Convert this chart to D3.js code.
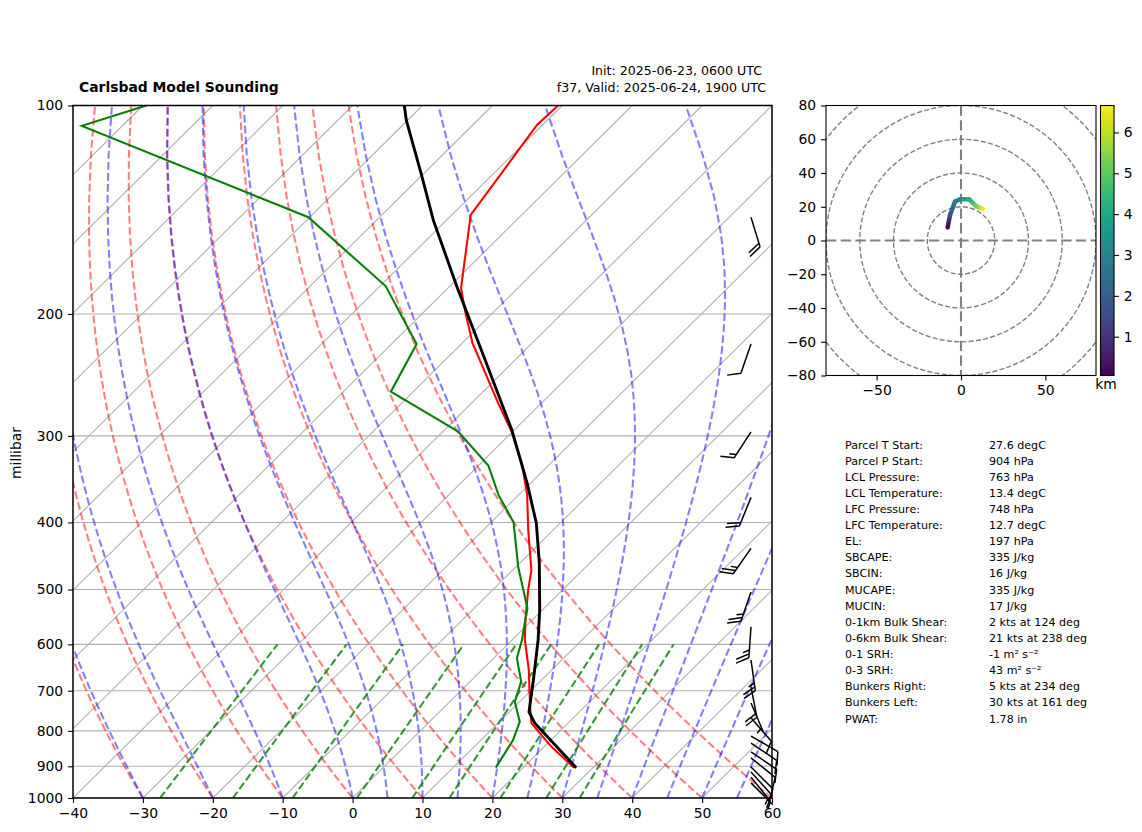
<!DOCTYPE html>
<html>
<head>
<meta charset="utf-8">
<script src="https://cdnjs.cloudflare.com/ajax/libs/d3/7.8.5/d3.min.js"></script>
<style>
    body { margin: 0; background: #fff; }
    text { font-family: "DejaVu Sans", sans-serif; fill: #000; }
    .tick text { font-size: 13.9px; }
    .tick line, .domain { stroke: #000; stroke-width: 1.1px; }
</style>
</head>
<body>
<script>
// sounding profile
const tempP = [904, 843, 780, 738, 653, 591, 553, 501, 469, 410, 365, 330, 297, 269, 225.5, 220.5, 197.4, 183.6, 143.9, 106.7, 100];
const tempC = [27.3, 21.0, 14.8, 12.2, 6.7, 1.8, -1.0, -4.9, -7.3, -13.6, -18.8, -23.9, -29.9, -36.2, -47.1, -48.5, -54.4, -58.1, -67.3, -70.8, -70.6];
const dewP = [904, 825, 776, 726, 679, 628, 591, 572, 532, 463.6, 399.7, 365, 331, 295.8, 284.5, 259, 221, 182.3, 145, 139.6, 107, 100];
const dewC = [16.1, 14.6, 12.9, 9.3, 7.3, 3.3, 1.4, 0.2, -2.4, -9.7, -16.8, -22.9, -28.6, -37.8, -42.3, -53.2, -56.4, -69.2, -90.2, -95.9, -135.8, -129.5];
const parcelP = [904, 779, 751, 675, 591, 535, 458, 401, 351, 294, 233, 182.7, 146.4, 126.7, 105, 100];
const parcelC = [27.6, 15.2, 12.8, 8.8, 3.7, -0.4, -7.2, -13.4, -20.5, -30.4, -44.3, -58.9, -71.9, -79.8, -90.2, -92.6];

// wind barbs
const windP = [145, 221, 296, 368, 436, 504, 566, 632, 691, 729, 766, 814, 833, 858, 875, 902, 917, 933, 951];
const windDir = [163, 199, 213, 202, 215, 199, 184, 172, 169, 157, 139, 120, 124, 124, 129, 135, 138, 141, 135];
const windKts = [20, 10, 15, 20, 25, 25, 25, 25, 20, 5, 10, 10, 10, 10, 10, 10, 10, 5, 5];

// hodograph
const hodoU = [-7.9, -6.5, -3.6, -0.6, 4.9, 8.9, 12.9];
const hodoV = [7.8, 15.1, 23, 24.4, 24.4, 20.4, 18.7];
const hodoKm = [0.05, 1.8, 2.7, 3.2, 4.2, 5.2, 6.6];

// background lines of the skew-T
const dryStart = [-30, -20, -10, 0, 10, 20, 30, 40, 50, 60];
const moistStart = [-30, -20, -10, 0, 5, 10, 15, 20, 25, 30, 35, 40, 45, 50, 55, 60];
const mixRatios = [0.0004, 0.001, 0.002, 0.004, 0.007, 0.01, 0.016, 0.024, 0.032];
const pressTicks = [100, 200, 300, 400, 500, 600, 700, 800, 900, 1000];
const tempTicks = [-40, -30, -20, -10, 0, 10, 20, 30, 40, 50, 60];

const statNames = ["Parcel T Start:", "Parcel P Start:", "LCL Pressure:", "LCL Temperature:", "LFC Pressure:", "LFC Temperature:", "EL:", "SBCAPE:", "SBCIN:", "MUCAPE:", "MUCIN:", "0-1km Bulk Shear:", "0-6km Bulk Shear:", "0-1 SRH:", "0-3 SRH:", "Bunkers Right:", "Bunkers Left:", "PWAT:"];
const statValues = ["27.6 degC", "904 hPa", "763 hPa", "13.4 degC", "748 hPa", "12.7 degC", "197 hPa", "335 J/kg", "16 J/kg", "335 J/kg", "17 J/kg", "2 kts at 124 deg", "21 kts at 238 deg", "-1 m\u00b2 s\u207b\u00b2", "43 m\u00b2 s\u207b\u00b2", "5 kts at 234 deg", "30 kts at 161 deg", "1.78 in"];

const width = 1142;
const height = 832;
const left = 73, right = 772, top_ = 105.5, bottom = 798;
const skew = 1.0094;

const x = d3.scaleLinear().domain([-40, 60]).range([left, right]);
const y = d3.scaleLog().domain([100, 1000]).range([top_, bottom]);
const skewX = (t, p) => x(t) + skew * (bottom - y(p));

const svg = d3.select(document.body).append("svg")
    .attr("width", width)
    .attr("height", height);

svg.append("clipPath").attr("id", "skewClip").append("rect")
    .attr("x", left).attr("y", top_).attr("width", right - left).attr("height", bottom - top_);

const plot = svg.append("g").attr("clip-path", "url(#skewClip)");
const line = d3.line().x(d => skewX(d[1], d[0])).y(d => y(d[0]));

// grid
plot.append("g").selectAll("line").data(d3.range(-130, 61, 10)).join("line")
    .attr("x1", t => skewX(t, 1000)).attr("y1", y(1000))
    .attr("x2", t => skewX(t, 100)).attr("y2", y(100))
    .attr("stroke", "#b0b0b0").attr("stroke-width", 1.1);
plot.append("g").selectAll("line").data(pressTicks).join("line")
    .attr("x1", left).attr("x2", right)
    .attr("y1", p => y(p)).attr("y2", p => y(p))
    .attr("stroke", "#b0b0b0").attr("stroke-width", 1.1);

// thermodynamic reference curves
const levels = d3.range(1000, 99, -18);
const dash = "7.7,3.3";

function dryAdiabat(t0) {
    return levels.map(p => [p, (t0 + 273.15) * Math.pow(p / 1000, 0.2857) - 273.15]);
}

function moistSlope(tK, p) {
    const es = 6.112 * Math.exp(17.67 * (tK - 273.15) / (tK - 29.65));
    const rs = 0.622 * es / (p - es);
    const Lv = 2.501e6, Rd = 287.05, Cp = 1005;
    return (Rd * tK + Lv * rs) / (Cp + Lv * Lv * rs * 0.622 / (Rd * tK * tK)) / p;
}

function moistAdiabat(t0) {
    let t = t0 + 273.15;
    const out = [[1000, t0]];
    for (let i = 1; i < levels.length; i++) {
        const p0 = levels[i - 1];
        const h = levels[i] - p0;
        const k1 = moistSlope(t, p0);
        const k2 = moistSlope(t + h * k1 / 2, p0 + h / 2);
        const k3 = moistSlope(t + h * k2 / 2, p0 + h / 2);
        const k4 = moistSlope(t + h * k3, p0 + h);
        t += h * (k1 + 2 * k2 + 2 * k3 + k4) / 6;
        out.push([levels[i], t - 273.15]);
    }
    return out;
}

function mixingLine(w) {
    return [1000, 950, 900, 850, 800, 750, 700, 650, 600].map(p => {
        const a = Math.log((p * w / (0.622 + w)) / 6.112);
        return [p, 243.5 * a / (17.67 - a)];
    });
}

plot.append("g").selectAll("path").data(dryStart.map(dryAdiabat)).join("path")
    .attr("d", line).attr("fill", "none")
    .attr("stroke", "#f00").attr("stroke-opacity", 0.5)
    .attr("stroke-width", 2.08).attr("stroke-dasharray", dash);
plot.append("g").selectAll("path").data(moistStart.map(moistAdiabat)).join("path")
    .attr("d", line).attr("fill", "none")
    .attr("stroke", "#00f").attr("stroke-opacity", 0.5)
    .attr("stroke-width", 2.08).attr("stroke-dasharray", dash);
plot.append("g").selectAll("path").data(mixRatios.map(mixingLine)).join("path")
    .attr("d", line).attr("fill", "none")
    .attr("stroke", "#008000").attr("stroke-opacity", 0.8)
    .attr("stroke-width", 2.08).attr("stroke-dasharray", dash);

// profiles
plot.append("path").datum(d3.zip(tempP, tempC)).attr("d", line)
    .attr("fill", "none").attr("stroke", "#f00").attr("stroke-width", 2.08);
plot.append("path").datum(d3.zip(dewP, dewC)).attr("d", line)
    .attr("fill", "none").attr("stroke", "#008000").attr("stroke-width", 2.08);
plot.append("path").datum(d3.zip(parcelP, parcelC)).attr("d", line)
    .attr("fill", "none").attr("stroke", "#000").attr("stroke-width", 2.9);

// barbs, not clipped: in the reference they stick out of the frame
const barbLen = 31;
function barbPath(kts) {
    const h = 0.4 * barbLen, gap = 0.125 * barbLen;
    let d = `M0,0L0,${barbLen}`;
    let full = Math.floor(kts / 10);
    const half = kts % 10 >= 5;
    let off = (full === 0 && half) ? gap : 0;
    for (let i = 0; i < full; i++) {
        d += `M0,${barbLen - off}L${-h},${barbLen - off + h / 2}`;
        off += gap;
    }
    if (half) d += `M0,${barbLen - off}L${-h / 2},${barbLen - off + h / 4}`;
    return d;
}

// frame first, the barbs lie over it
svg.append("rect").attr("x", left).attr("y", top_)
    .attr("width", right - left).attr("height", bottom - top_)
    .attr("fill", "none").attr("stroke", "#000").attr("stroke-width", 1.5);

svg.append("g").selectAll("path").data(d3.zip(windP, windDir, windKts)).join("path")
    .attr("transform", d => `translate(751,${y(d[0])}) rotate(${d[1] - 180})`)
    .attr("d", d => barbPath(d[2]))
    .attr("fill", "none").attr("stroke", "#000").attr("stroke-width", 1.5);

svg.append("g").attr("transform", `translate(0,${bottom})`)
    .call(d3.axisBottom(x).tickValues(tempTicks).tickSize(4.9).tickPadding(4.9))
    .call(g => g.select(".domain").remove());
svg.append("g").attr("transform", `translate(${left},0)`)
    .call(d3.axisLeft(y).tickValues(pressTicks).tickFormat(d3.format("d")).tickSize(4.9).tickPadding(4.9))
    .call(g => g.select(".domain").remove());

svg.append("text").attr("transform", "translate(21,453) rotate(-90)")
    .attr("text-anchor", "middle").attr("font-size", 13.9).text("millibar");
svg.append("text").attr("x", 79).attr("y", 92)
    .attr("font-size", 13.9).attr("font-weight", "bold").text("Carlsbad Model Sounding");
svg.append("text").attr("x", 762).attr("y", 74.5).attr("text-anchor", "end")
    .attr("font-size", 12.6).text("Init: 2025-06-23, 0600 UTC");
svg.append("text").attr("x", 766).attr("y", 92).attr("text-anchor", "end")
    .attr("font-size", 12.6).text("f37, Valid: 2025-06-24, 1900 UTC");

// hodograph
const hx = d3.scaleLinear().domain([-80, 80]).range([826, 1096]);
const hy = d3.scaleLinear().domain([-80, 80]).range([375.5, 105.5]);

svg.append("clipPath").attr("id", "hodoClip").append("rect")
    .attr("x", 826).attr("y", 105.5).attr("width", 270).attr("height", 270);
const hodo = svg.append("g").attr("clip-path", "url(#hodoClip)");

hodo.append("g").selectAll("circle").data([20, 40, 60, 80, 100]).join("circle")
    .attr("cx", hx(0)).attr("cy", hy(0))
    .attr("r", r => hx(r) - hx(0))
    .attr("fill", "none").attr("stroke", "#808080")
    .attr("stroke-width", 1.39).attr("stroke-dasharray", "5.1,2.2");
hodo.append("line").attr("x1", hx(-80)).attr("x2", hx(80)).attr("y1", hy(0)).attr("y2", hy(0))
    .attr("stroke", "#808080").attr("stroke-width", 2.1).attr("stroke-dasharray", "10.3,4.4");
hodo.append("line").attr("x1", hx(0)).attr("x2", hx(0)).attr("y1", hy(80)).attr("y2", hy(-80))
    .attr("stroke", "#808080").attr("stroke-width", 2.1).attr("stroke-dasharray", "10.3,4.4");

const kmScale = d3.scaleLinear().domain([0.05, 6.66]).range([375.5, 105.5]);
const kmColor = d3.scaleSequential(d3.interpolateViridis).domain([0.05, 6.66]);
const defs = svg.append("defs");

d3.range(hodoU.length - 1).forEach(i => {
    const x1 = hx(hodoU[i]), y1 = hy(hodoV[i]), x2 = hx(hodoU[i + 1]), y2 = hy(hodoV[i + 1]);
    const grad = defs.append("linearGradient").attr("id", "seg" + i)
        .attr("gradientUnits", "userSpaceOnUse")
        .attr("x1", x1).attr("y1", y1).attr("x2", x2).attr("y2", y2);
    grad.append("stop").attr("offset", 0).attr("stop-color", kmColor(hodoKm[i]));
    grad.append("stop").attr("offset", 1).attr("stop-color", kmColor(hodoKm[i + 1]));
    hodo.append("line")
        .attr("x1", x1).attr("y1", y1).attr("x2", x2).attr("y2", y2)
        .attr("stroke", `url(#seg${i})`).attr("stroke-width", 4.5).attr("stroke-linecap", "round");
});

svg.append("rect").attr("x", 826).attr("y", 105.5).attr("width", 270).attr("height", 270)
    .attr("fill", "none").attr("stroke", "#000").attr("stroke-width", 1.1);
svg.append("g").attr("transform", "translate(0,375.5)")
    .call(d3.axisBottom(hx).tickValues([-50, 0, 50]).tickSize(4.9).tickPadding(4.9))
    .call(g => g.select(".domain").remove());
svg.append("g").attr("transform", "translate(826,0)")
    .call(d3.axisLeft(hy).tickValues(d3.range(-80, 81, 20)).tickSize(4.9).tickPadding(4.9))
    .call(g => g.select(".domain").remove());

// colorbar
const barGrad = defs.append("linearGradient").attr("id", "kmBar")
    .attr("x1", 0).attr("x2", 0).attr("y1", 1).attr("y2", 0);
d3.range(0, 1.001, 0.05).forEach(f => {
    barGrad.append("stop").attr("offset", f).attr("stop-color", d3.interpolateViridis(f));
});
svg.append("rect").attr("x", 1100.5).attr("y", 105.5).attr("width", 13.5).attr("height", 270)
    .attr("fill", "url(#kmBar)").attr("stroke", "#000").attr("stroke-width", 1.1);
svg.append("g").attr("transform", "translate(1114,0)")
    .call(d3.axisRight(kmScale).tickValues([1, 2, 3, 4, 5, 6]).tickFormat(d3.format("d")).tickSize(4.9).tickPadding(4.9))
    .call(g => g.select(".domain").remove());
svg.append("text").attr("x", 1106).attr("y", 389).attr("text-anchor", "middle")
    .attr("font-size", 13.9).text("km");

// stats table
const statY = d3.scaleLinear().domain([0, statNames.length - 1]).range([448.5, 722.5]);
svg.append("g").selectAll("text").data(statNames).join("text")
    .attr("x", 845).attr("y", (d, i) => statY(i)).attr("font-size", 11.1).text(d => d);
svg.append("g").selectAll("text").data(statValues).join("text")
    .attr("x", 989).attr("y", (d, i) => statY(i)).attr("font-size", 11.1).text(d => d);
</script>
</body>
</html>
